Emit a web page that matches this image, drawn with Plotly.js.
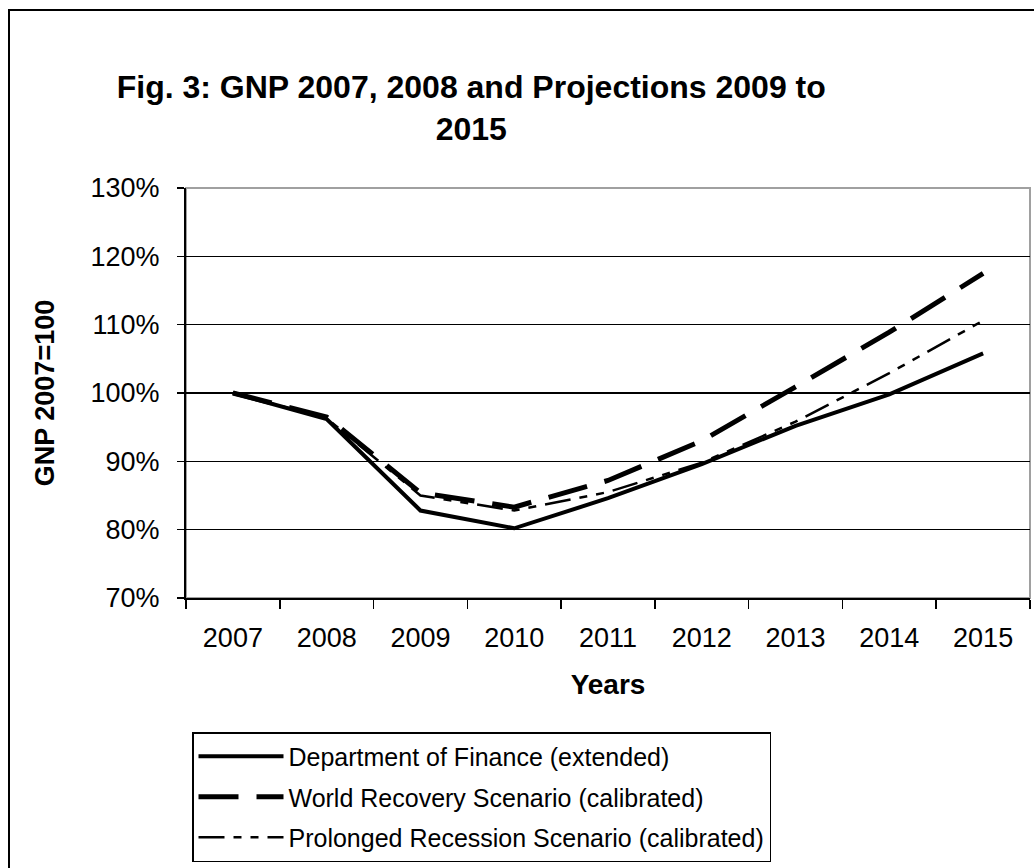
<!DOCTYPE html>
<html>
<head>
<meta charset="utf-8">
<script src="https://cdn.plot.ly/plotly-3.0.1.min.js"></script>
<style>
  html, body { margin: 0; padding: 0; background: #fff; overflow: hidden; }
  #wrap { position: relative; width: 1034px; height: 868px; overflow: hidden; }
  #chart { position: absolute; left: 0; top: 0; width: 1034px; height: 868px; }
  #frame { position: absolute; left: 8px; top: 9px; width: 1200px; height: 1000px;
           border-left: 2px solid #000; border-top: 2px solid #000; pointer-events: none; }
</style>
</head>
<body>
<div id="wrap">
  <div id="chart"></div>
  <div id="frame"></div>
</div>
<script>
const years = ["2007", "2008", "2009", "2010", "2011", "2012", "2013", "2014", "2015"];
const financeValues   = [1.000, 0.962, 0.828, 0.802, 0.846, 0.896, 0.952, 0.998, 1.058];
const worldRecValues  = [1.000, 0.965, 0.854, 0.833, 0.872, 0.930, 1.009, 1.089, 1.175];
const prolongedValues = [1.000, 0.963, 0.850, 0.828, 0.855, 0.898, 0.958, 1.029, 1.106];
const seriesNames = [
  "Department of Finance (extended)",
  "World Recovery Scenario (calibrated)",
  "Prolonged Recession Scenario (calibrated)"
];
const yTickVals = [0.7, 0.8, 0.9, 1.0, 1.1, 1.2, 1.3];
const yTickText = ["70%", "80%", "90%", "100%", "110%", "120%", "130%"];

const FONT = "Arial, 'Liberation Sans', sans-serif";

const traces = [
  { x: years, y: financeValues, name: seriesNames[0], type: "scatter", mode: "lines",
    legendgroup: "a", line: { color: "#000", width: 4, dash: "solid" } },
  { x: years, y: worldRecValues, name: seriesNames[1], type: "scatter", mode: "lines",
    legendgroup: "b", line: { color: "#000", width: 5, dash: "40px,18px" } },
  { x: years, y: prolongedValues, name: seriesNames[2], type: "scatter", mode: "lines",
    legendgroup: "c", line: { color: "#000", width: 2.5, dash: "26px,9px,8px,9px,8px,9px" } }
];

const layout = {
  width: 1034, height: 868,
  margin: { l: 186, r: 4, t: 188, b: 270 },
  paper_bgcolor: "#fff", plot_bgcolor: "#fff",
  font: { family: FONT, color: "#000", size: 27 },
  showlegend: true,
  title: {
    text: "<b>Fig. 3: GNP 2007, 2008 and Projections 2009 to<br>2015</b>",
    font: { family: FONT, size: 32, color: "#000" },
    xref: "paper", x: 0.338, xanchor: "center",
    yref: "container", y: 1 - 98 / 868, yanchor: "top"
  },
  xaxis: {
    type: "category",
    range: [-0.5, 8.5],
    tickson: "boundaries",
    ticks: "outside", ticklen: 9, tickwidth: 1.5, tickcolor: "#000",
    showline: true, linecolor: "#000", linewidth: 2,
    showgrid: false, zeroline: false,
    ticklabelstandoff: 15,
    tickfont: { family: FONT, size: 27, color: "#000" },
    title: { text: "<b>Years</b>", font: { family: FONT, size: 28, color: "#000" }, standoff: 22 },
    fixedrange: true
  },
  yaxis: {
    range: [0.7, 1.3],
    tickvals: yTickVals, ticktext: yTickText,
    ticks: "outside", ticklen: 7, tickwidth: 1.5, tickcolor: "#000",
    showline: true, linecolor: "#000", linewidth: 2,
    showgrid: true, gridcolor: "#000", gridwidth: 1.5,
    zeroline: false,
    ticklabelstandoff: 12,
    tickfont: { family: FONT, size: 27, color: "#000" },
    title: { text: "<b>GNP 2007=100</b>", font: { family: FONT, size: 27, color: "#000" }, standoff: 28 },
    fixedrange: true
  },
  shapes: [
    { type: "rect", xref: "paper", yref: "paper", x0: 0, x1: 1, y0: 0, y1: 1,
      line: { color: "#a0a0a0", width: 2 }, layer: "below" }
  ],
  legend: {
    x: (192 - 186) / 844, y: (598 - 732) / 410,
    xanchor: "left", yanchor: "top",
    bgcolor: "#fff", bordercolor: "#000", borderwidth: 1.5,
    font: { family: FONT, size: 25, color: "#000" },
    traceorder: "grouped", tracegroupgap: 5,
    itemwidth: 85
  }
};

Plotly.newPlot("chart", traces, layout, { displayModeBar: false, staticPlot: true });
</script>
</body>
</html>
